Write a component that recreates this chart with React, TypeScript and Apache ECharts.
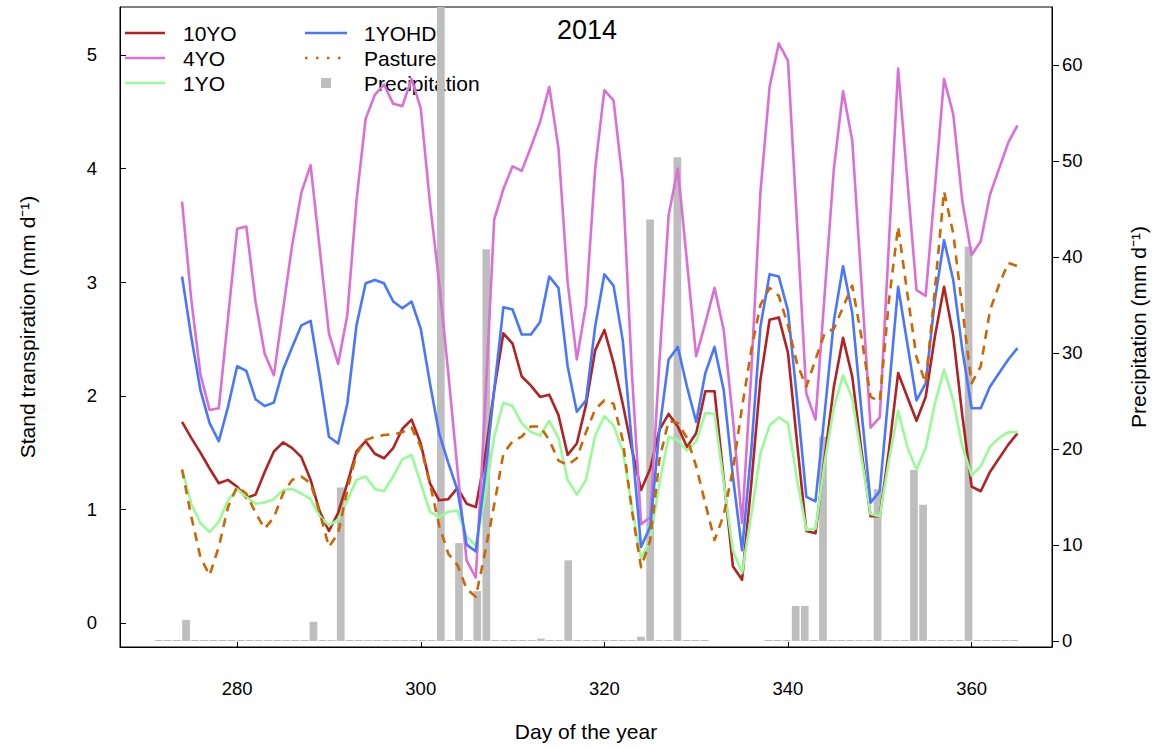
import React, { useEffect, useRef } from 'react';
import * as echarts from 'echarts';

// Day of year for the transpiration series (274..365)
const DAYS: number[] = Array.from({ length: 92 }, (_, i) => 274 + i);

const YO10 = [
  1.77, 1.63, 1.50, 1.36, 1.23, 1.26, 1.20, 1.10, 1.13, 1.33, 1.51, 1.59, 1.54, 1.46, 1.26, 0.98, 0.81, 0.97, 1.23, 1.51,
  1.60, 1.49, 1.45, 1.54, 1.71, 1.79, 1.58, 1.23, 1.08, 1.09, 1.19, 1.05, 1.02, 1.46, 2.05, 2.55, 2.46, 2.17, 2.09, 1.99,
  2.01, 1.83, 1.48, 1.58, 1.92, 2.40, 2.58, 2.29, 1.93, 1.53, 1.17, 1.36, 1.70, 1.84, 1.73, 1.55, 1.67, 2.04, 2.04, 1.27,
  0.50, 0.38, 1.22, 2.14, 2.67, 2.69, 2.38, 1.58, 0.81, 0.79, 1.45, 2.08, 2.51, 2.17, 1.52, 0.94, 0.94, 1.52, 2.20, 1.99,
  1.78, 1.99, 2.52, 2.96, 2.53, 1.82, 1.20, 1.16, 1.33, 1.45, 1.57, 1.67,
];

const YO4 = [
  3.71, 2.85, 2.19, 1.875, 1.89, 2.68, 3.47, 3.49, 2.83, 2.37, 2.18, 2.76, 3.33, 3.79, 4.03, 3.29, 2.55, 2.28, 2.71, 3.72,
  4.44, 4.65, 4.74, 4.57, 4.55, 4.79, 4.53, 3.70, 3.00, 2.20, 1.35, 0.55, 0.40, 1.90, 3.55, 3.82, 4.02, 3.98, 4.19, 4.41,
  4.72, 4.18, 3.00, 2.32, 2.80, 4.00, 4.69, 4.60, 3.89, 2.20, 0.87, 0.93, 2.30, 3.59, 4.00, 3.18, 2.35, 2.64, 2.95, 2.58,
  1.80, 0.88, 2.20, 3.79, 4.72, 5.10, 4.95, 3.50, 2.02, 1.79, 2.90, 4.00, 4.68, 4.25, 3.00, 1.72, 1.81, 3.35, 4.88, 3.90,
  2.93, 2.88, 3.82, 4.79, 4.48, 3.71, 3.24, 3.36, 3.77, 4.00, 4.23, 4.38,
];

const YO1 = [
  1.36, 1.05, 0.88, 0.80, 0.89, 1.08, 1.18, 1.11, 1.05, 1.06, 1.09, 1.17, 1.18, 1.14, 1.09, 0.94, 0.86, 0.91, 1.08, 1.26,
  1.29, 1.18, 1.16, 1.29, 1.44, 1.48, 1.23, 0.98, 0.93, 0.98, 0.99, 0.76, 0.68, 1.11, 1.64, 1.94, 1.91, 1.76, 1.68, 1.65,
  1.78, 1.63, 1.26, 1.13, 1.26, 1.65, 1.82, 1.74, 1.52, 1.02, 0.57, 0.73, 1.23, 1.64, 1.61, 1.52, 1.60, 1.85, 1.84, 1.24,
  0.64, 0.44, 0.95, 1.49, 1.74, 1.81, 1.76, 1.26, 0.82, 0.83, 1.41, 1.90, 2.18, 1.98, 1.46, 0.96, 0.94, 1.43, 1.87, 1.55,
  1.35, 1.54, 1.93, 2.23, 1.96, 1.55, 1.30, 1.38, 1.55, 1.63, 1.68, 1.68,
];

const YOHD1 = [
  3.05, 2.52, 2.05, 1.76, 1.60, 1.90, 2.26, 2.22, 1.97, 1.91, 1.94, 2.23, 2.43, 2.62, 2.66, 2.17, 1.64, 1.58, 1.93, 2.62,
  2.99, 3.02, 2.99, 2.83, 2.77, 2.83, 2.59, 2.11, 1.67, 1.41, 1.17, 0.69, 0.63, 1.30, 2.05, 2.78, 2.76, 2.54, 2.54, 2.65,
  3.05, 2.95, 2.26, 1.86, 1.96, 2.61, 3.07, 2.97, 2.49, 1.58, 0.67, 0.85, 1.70, 2.32, 2.43, 2.08, 1.77, 2.20, 2.43, 2.05,
  1.29, 0.64, 1.52, 2.61, 3.07, 3.05, 2.75, 1.96, 1.11, 1.07, 1.85, 2.66, 3.14, 2.73, 1.87, 1.06, 1.16, 2.05, 2.96, 2.46,
  1.96, 2.11, 2.84, 3.37, 3.02, 2.40, 1.89, 1.89, 2.08, 2.20, 2.32, 2.42,
];

const PASTURE = [
  1.35, 0.94, 0.58, 0.42, 0.67, 1.02, 1.20, 1.14, 0.97, 0.83, 0.93, 1.14, 1.26, 1.29, 1.23, 0.97, 0.67, 0.79, 1.17, 1.49,
  1.61, 1.64, 1.655, 1.66, 1.68, 1.72, 1.55, 1.23, 0.86, 0.61, 0.51, 0.30, 0.23, 0.62, 1.04, 1.49, 1.60, 1.64, 1.73, 1.73,
  1.61, 1.43, 1.39, 1.45, 1.68, 1.88, 1.96, 1.93, 1.61, 0.99, 0.49, 0.73, 1.44, 1.78, 1.76, 1.63, 1.38, 1.05, 0.73, 0.95,
  1.35, 1.90, 2.40, 2.80, 2.95, 2.88, 2.62, 2.28, 2.08, 2.32, 2.55, 2.59, 2.78, 2.97, 2.52, 1.99, 1.95, 2.84, 3.49, 2.90,
  2.34, 2.11, 2.93, 3.80, 3.43, 2.76, 2.11, 2.26, 2.75, 2.98, 3.17, 3.14,
];

// Precipitation, days 271..365 (null = no record)
const PRECIP_DAYS: number[] = Array.from({ length: 95 }, (_, i) => 271 + i);
const PRECIP: (number | null)[] = [
  0, 0, 0, 2.2, 0, 0, 0, 0, 0, 0, // 271-280
  0, 0, 0, 0, 0, 0, 0, 2.0, 0, 0, // 281-290
  16.0, 0, 0, 0, 0, 0, 0, 0, 0, 0, // 291-300
  0, 68, 0, 10.2, 0, 5.2, 40.8, 0, 0, 0, // 301-310
  0, 0, 0.25, 0, 0, 8.4, 0, 0, 0, 0, // 311-320
  0, 0, 0, 0.45, 43.9, 0, 0, 50.4, 0, 0, // 321-330
  0, null, null, null, null, null, null, 0, 0, 0, // 331-340
  3.65, 3.65, 0, 21.3, 0, 0, 0, 0, 0, 15.8, // 341-350
  0, 0, 0, 17.8, 14.2, 0, 0, 0, 0, 41.1, // 351-360
  0, 0, 0, 0, 0, // 361-365
];

const X_TICKS = [280, 300, 320, 340, 360];
const LEFT_TICKS = [0, 1, 2, 3, 4, 5];
const RIGHT_TICKS = [0, 10, 20, 30, 40, 50, 60];

const C10 = '#B22222';
const C4 = '#DA70D6';
const C1 = '#98FB98';
const CHD = '#4876FF';
const CPAS = '#CD6600';
const CPRE = '#BEBEBE';

const FONT = '"Liberation Sans", Arial, Helvetica, sans-serif';

export default function App() {
  const ref = useRef<HTMLDivElement>(null);

  useEffect(() => {
    if (!ref.current) return;
    const chart = echarts.init(ref.current, undefined, { renderer: 'svg' });

    const pairs = (vals: number[]) => DAYS.map((d, i) => [d, vals[i]]);
    const lw = 2.6;
    const lineSeries = (name: string, vals: number[], color: string, dash?: number[]) => ({
      name,
      type: 'line',
      xAxisIndex: 0,
      yAxisIndex: 0,
      data: pairs(vals),
      symbol: 'none',
      showSymbol: false,
      smooth: false,
      z: 3,
      itemStyle: { color },
      lineStyle: { color, width: lw, type: dash ? dash : 'solid', cap: 'butt', join: 'round' },
    });

    const legendY = [33, 58, 83];
    const txt = (x: number, y: number, text: string) => ({
      type: 'text',
      x,
      y,
      style: { text, fill: '#000', font: `21px ${FONT}`, textAlign: 'left', textVerticalAlign: 'middle' },
    });
    const lgLine = (x1: number, x2: number, y: number, color: string, dash?: number[]) => ({
      type: 'line',
      shape: { x1, y1: y, x2, y2: y },
      style: { stroke: color, lineWidth: lw, lineDash: dash, lineCap: 'butt' },
    });

    const graphic = [
      lgLine(125, 165, legendY[0], C10),
      txt(183, legendY[0], '10YO'),
      lgLine(125, 165, legendY[1], C4),
      txt(183, legendY[1], '4YO'),
      lgLine(125, 165, legendY[2], C1),
      txt(183, legendY[2], '1YO'),
      lgLine(305, 347, legendY[0], CHD),
      txt(364, legendY[0], '1YOHD'),
      lgLine(305, 347, legendY[1], CPAS, [2.5, 8.5]),
      txt(364, legendY[1], 'Pasture'),
      {
        type: 'rect',
        shape: { x: 321, y: legendY[2] - 5, width: 10, height: 10 },
        style: { fill: CPRE },
      },
      txt(364, legendY[2], 'Precipitation'),
      {
        type: 'text',
        x: 587,
        y: 30,
        style: { text: '2014', fill: '#000', font: `27px ${FONT}`, textAlign: 'center', textVerticalAlign: 'middle' },
      },
    ];

    const axisText = { color: '#000', fontFamily: FONT, fontSize: 18.5 };
    const nameText = { color: '#000', fontFamily: FONT, fontSize: 21 };

    chart.setOption({
      animation: false,
      backgroundColor: '#fff',
      grid: {
        left: 120,
        right: 103.4,
        top: 7,
        bottom: 101,
        show: true,
        borderColor: '#000',
        borderWidth: 1,
        containLabel: false,
      },
      xAxis: [
        {
          type: 'value',
          min: 267.24,
          max: 368.76,
          position: 'bottom',
          axisLine: { show: true, onZero: false, lineStyle: { color: '#000', width: 1 } },
          axisTick: { show: true, inside: true, length: 5, customValues: X_TICKS, lineStyle: { color: '#000' } },
          axisLabel: { customValues: X_TICKS, margin: 32, ...axisText },
          splitLine: { show: false },
          name: 'Day of the year',
          nameLocation: 'middle',
          nameGap: 74,
          nameTextStyle: nameText,
        },
        {
          type: 'value',
          min: 266.74,
          max: 369.17,
          show: false,
          splitLine: { show: false },
        },
      ],
      yAxis: [
        {
          type: 'value',
          min: -0.2113,
          max: 5.4225,
          position: 'left',
          axisLine: { show: true, onZero: false, lineStyle: { color: '#000', width: 1 } },
          axisTick: { show: true, inside: true, length: 6, customValues: LEFT_TICKS, lineStyle: { color: '#000' } },
          axisLabel: { customValues: LEFT_TICKS, margin: 23, ...axisText },
          splitLine: { show: false },
          name: 'Stand transpiration (mm d\u207B\u00B9)',
          nameLocation: 'middle',
          nameRotate: 90,
          nameGap: 82,
          nameTextStyle: nameText,
        },
        {
          type: 'value',
          min: -0.625,
          max: 66.04,
          position: 'right',
          axisLine: { show: true, onZero: false, lineStyle: { color: '#000', width: 1 } },
          axisTick: { show: true, inside: false, length: 7, customValues: RIGHT_TICKS, lineStyle: { color: '#000' } },
          axisLabel: { customValues: RIGHT_TICKS, margin: 10, ...axisText },
          splitLine: { show: false },
          name: 'Precipitation (mm d\u207B\u00B9)',
          nameLocation: 'middle',
          nameRotate: 90,
          nameGap: 76,
          nameTextStyle: nameText,
        },
      ],
      series: [
        {
          name: 'Precipitation',
          type: 'bar',
          xAxisIndex: 1,
          yAxisIndex: 1,
          data: PRECIP_DAYS.map((d, i) => [d, PRECIP[i] === null ? '-' : PRECIP[i]]),
          barWidth: 7.7,
          barMinHeight: 1,
          clip: true,
          z: 1,
          itemStyle: { color: CPRE },
        },
        lineSeries('10YO', YO10, C10),
        lineSeries('4YO', YO4, C4),
        lineSeries('1YO', YO1, C1),
        lineSeries('1YOHD', YOHD1, CHD),
        lineSeries('Pasture', PASTURE, CPAS, [9, 7]),
      ],
      graphic,
    });

    return () => {
      chart.dispose();
    };
  }, []);

  return <div ref={ref} style={{ position: 'fixed', left: 0, top: 0, width: 1157, height: 748 }} />;
}
